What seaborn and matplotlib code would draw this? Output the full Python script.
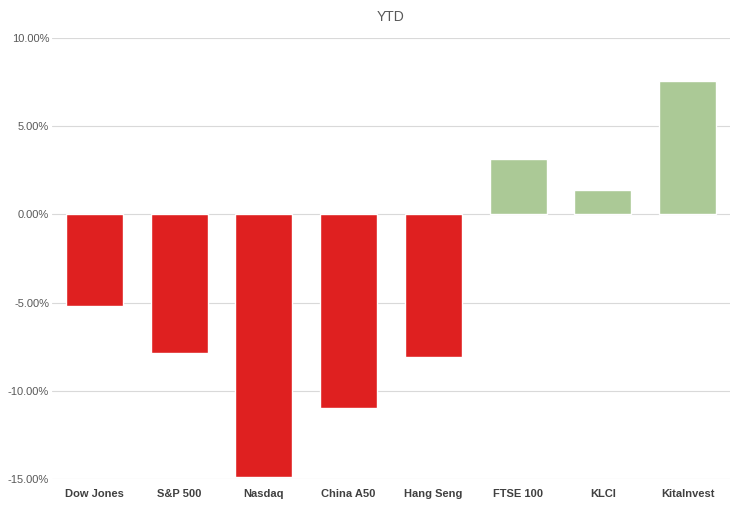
import matplotlib.pyplot as plt
import seaborn as sns
import pandas as pd
from matplotlib.ticker import FuncFormatter

indices = ['Dow Jones', 'S&P 500', 'Nasdaq', 'China A50', 'Hang Seng', 'FTSE 100', 'KLCI', 'KitaInvest']
ytd = [-5.17, -7.84, -14.9, -10.97, -8.07, 3.13, 1.36, 7.56]

df = pd.DataFrame({'index': indices, 'ytd': ytd})
colors = ['#FF0000' if v < 0 else '#A9D18E' for v in ytd]

sns.set_theme(style="white")
plt.rcParams['font.family'] = ['Liberation Sans', 'DejaVu Sans']

fig = plt.figure(figsize=(7.4, 5.08), dpi=100)
ax = fig.add_axes([52 / 740, 29 / 508, 678 / 740, 441 / 508])

sns.barplot(data=df, x='index', y='ytd', hue='index', palette=colors,
            legend=False, width=0.67, ax=ax, zorder=3)

ax.set_ylim(-15, 10)
ax.set_yticks([-15, -10, -5, 0, 5, 10])
ax.yaxis.set_major_formatter(FuncFormatter(lambda v, p: f'{v:.2f}%'))
ax.grid(axis='y', color='#D9D9D9', linewidth=0.8, zorder=0)
ax.set_xlabel('')
ax.set_ylabel('')
for s in ax.spines.values():
    s.set_visible(False)
ax.tick_params(axis='y', labelsize=8, colors='#595959', length=0, pad=2)
ax.tick_params(axis='x', labelsize=8, colors='#404040', length=0, pad=7)
for lbl in ax.get_xticklabels():
    lbl.set_fontweight('bold')
ax.set_title('YTD', fontsize=10, color='#595959', pad=12)

fig.savefig('out.png', dpi=100)
